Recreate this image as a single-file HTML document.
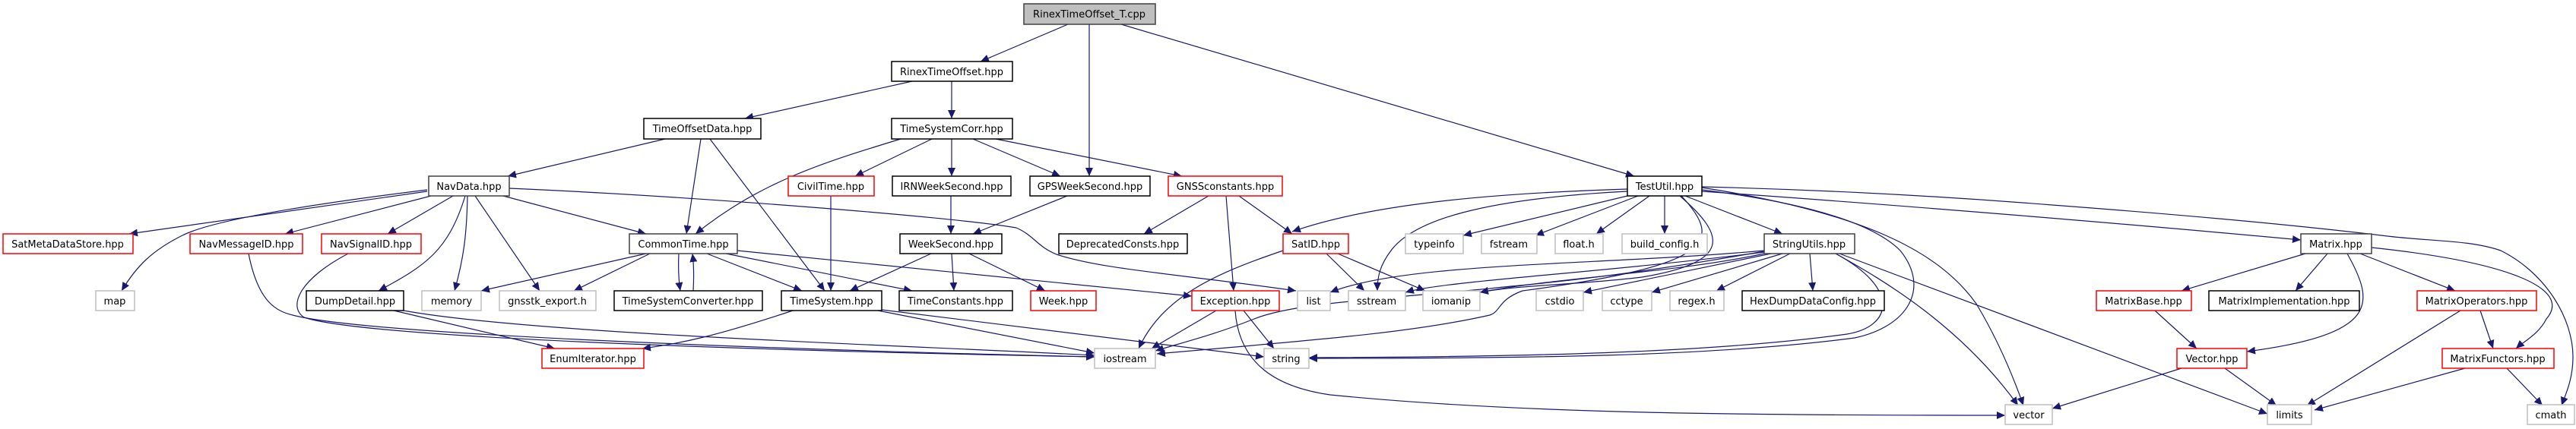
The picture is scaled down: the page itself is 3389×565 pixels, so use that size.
<!DOCTYPE html>
<html><head><meta charset="utf-8"><style>
html,body{margin:0;padding:0;background:#fff}
svg text{font-family:"DejaVu Sans","Liberation Sans",sans-serif;font-size:13px;text-anchor:middle;fill:#000}
</style></head><body>
<svg width="3389" height="560" viewBox="0 0 3389 560" xmlns="http://www.w3.org/2000/svg">
<defs><marker id="a" markerUnits="userSpaceOnUse" markerWidth="12" markerHeight="10" refX="11" refY="5" orient="auto"><path d="M0,0 L11,5 L0,10 z" fill="#191970"/></marker></defs>
<g fill="none" stroke="#191970" stroke-width="1.2" marker-end="url(#a)">
<path d="M1405,32 L1290,81"/>
<path d="M1433,32 L1433,232"/>
<path d="M1475,32 L2150,232"/>
<path d="M1200,107 L980,156"/>
<path d="M1252,107 L1252,156"/>
<path d="M875,183 L668,232"/>
<path d="M922,183 L903,308"/>
<path d="M934,183 L1085,383"/>
<path d="M1185,183 C1080,215 1000,240 915,308"/>
<path d="M1226,183 L1125,232"/>
<path d="M1252,183 L1252,232"/>
<path d="M1280,183 L1395,232"/>
<path d="M1310,183 L1555,232"/>
<path d="M562,252 L170,308"/>
<path d="M562,250 C400,270 280,290 240,310 C200,330 180,350 160,383"/>
<path d="M567,258 L375,308"/>
<path d="M596,258 L510,308"/>
<path d="M612,258 C590,330 560,350 498,383"/>
<path d="M615,258 C614,310 610,340 598,383"/>
<path d="M625,258 L710,383"/>
<path d="M662,258 L850,308"/>
<path d="M670,248 C900,258 1250,285 1337,300 C1360,310 1365,325 1390,335 C1450,355 1560,362 1705,383"/>
<path d="M327,334 C340,400 365,410 385,415 C480,440 1000,460 1440,470"/>
<path d="M458,334 C390,370 380,405 400,418 C480,445 1000,462 1440,470"/>
<path d="M518,409 L730,459"/>
<path d="M531,409 C700,440 1200,455 1440,468"/>
<path d="M1043,409 C950,440 900,452 845,459"/>
<path d="M1155,409 L1440,465"/>
<path d="M1160,408 L1663,470"/>
<path d="M850,334 L633,383"/>
<path d="M855,334 L755,383"/>
<path d="M893,334 C892,355 893,370 895,383"/>
<path d="M912,383 C913,365 913,350 911,334"/>
<path d="M930,334 L1055,383"/>
<path d="M955,334 L1200,383"/>
<path d="M970,330 L1568,390"/>
<path d="M1093,258 L1093,383"/>
<path d="M1251,258 L1251,308"/>
<path d="M1404,258 L1280,308"/>
<path d="M1225,334 L1118,383"/>
<path d="M1252,334 L1255,383"/>
<path d="M1275,334 L1375,383"/>
<path d="M1590,258 L1505,308"/>
<path d="M1613,258 L1623,383"/>
<path d="M1630,258 L1700,308"/>
<path d="M1688,330 C1600,360 1530,390 1498,459"/>
<path d="M1745,334 L1795,383"/>
<path d="M1760,334 L1875,383"/>
<path d="M1600,409 L1515,459"/>
<path d="M1636,409 L1676,459"/>
<path d="M1625,409 C1630,480 1680,510 1750,520 C2000,545 2300,547 2638,547"/>
<path d="M2141,249 C1950,255 1800,270 1700,305"/>
<path d="M2141,252 C1950,262 1860,290 1830,330 C1815,350 1812,365 1812,383"/>
<path d="M2141,258 L1925,310"/>
<path d="M2155,258 L2020,310"/>
<path d="M2170,258 L2100,308"/>
<path d="M2190,258 L2190,308"/>
<path d="M2210,258 C2270,310 2280,345 2160,365 C2080,375 2000,375 1947,385"/>
<path d="M2212,258 C2270,320 2250,350 2003,383 C1970,395 1975,410 1960,415 C1850,440 1700,450 1522,466"/>
<path d="M2217,258 L2345,308"/>
<path d="M2239,250 C2400,270 2470,300 2500,330 C2540,380 2510,430 2440,445 C2250,470 2000,472 1722,472"/>
<path d="M2239,247 C2450,280 2550,330 2600,400 C2630,450 2650,500 2662,534"/>
<path d="M2239,252 C2500,270 2800,295 3027,316"/>
<path d="M2239,246 C2400,250 2550,258 2700,270 C2900,285 3050,300 3141,311 C3200,318 3249,316 3290,330 C3350,360 3385,420 3385,470 C3385,500 3375,520 3370,534"/>
<path d="M2321,330 C2100,350 1850,345 1750,385"/>
<path d="M2321,332 C2100,360 1900,370 1849,385"/>
<path d="M2321,334 C2200,360 2050,365 1947,385"/>
<path d="M2321,331 C2100,370 2000,375 1960,380 C1800,395 1700,400 1650,420 C1600,440 1560,450 1520,462"/>
<path d="M2330,334 L2083,385"/>
<path d="M2345,334 L2173,385"/>
<path d="M2355,334 L2258,383"/>
<path d="M2381,334 L2385,383"/>
<path d="M2415,334 C2500,380 2490,430 2430,440 C2250,465 2000,470 1722,471"/>
<path d="M2415,334 C2480,370 2580,430 2655,534"/>
<path d="M2420,334 L2983,545"/>
<path d="M3033,334 L2870,383"/>
<path d="M3062,334 L3020,383"/>
<path d="M3088,334 C3125,400 3130,440 2956,463"/>
<path d="M3105,334 L3230,383"/>
<path d="M3120,326 C3300,345 3385,380 3350,420 C3340,440 3320,450 3310,459"/>
<path d="M2835,409 L2890,459"/>
<path d="M3237,409 L3035,534"/>
<path d="M3263,409 L3280,459"/>
<path d="M2870,485 L2700,538"/>
<path d="M2927,485 L2995,534"/>
<path d="M3243,485 L3045,540"/>
<path d="M3298,485 L3345,534"/>
</g>
<g stroke-width="1.5">
<rect x="1347" y="5" width="173" height="27" fill="#bfbfbf" stroke="#404040"/><text x="1433" y="23">RinexTimeOffset_T.cpp</text>
<rect x="1173" y="81" width="159" height="26" fill="#fff" stroke="#000"/><text x="1252" y="99">RinexTimeOffset.hpp</text>
<rect x="847" y="156" width="154" height="27" fill="#fff" stroke="#000"/><text x="924" y="174">TimeOffsetData.hpp</text>
<rect x="1173" y="156" width="159" height="27" fill="#fff" stroke="#000"/><text x="1252" y="174">TimeSystemCorr.hpp</text>
<rect x="564" y="232" width="106" height="26" fill="#fff" stroke="#404040"/><text x="617" y="250">NavData.hpp</text>
<rect x="1037" y="232" width="113" height="26" fill="#fff" stroke="#ff0000"/><text x="1093" y="250">CivilTime.hpp</text>
<rect x="1174" y="232" width="156" height="26" fill="#fff" stroke="#000"/><text x="1252" y="250">IRNWeekSecond.hpp</text>
<rect x="1355" y="232" width="158" height="26" fill="#fff" stroke="#000"/><text x="1434" y="250">GPSWeekSecond.hpp</text>
<rect x="1537" y="232" width="150" height="26" fill="#fff" stroke="#ff0000"/><text x="1612" y="250">GNSSconstants.hpp</text>
<rect x="2141" y="232" width="98" height="26" fill="#fff" stroke="#000"/><text x="2190" y="250">TestUtil.hpp</text>
<rect x="4" y="308" width="171" height="26" fill="#fff" stroke="#ff0000"/><text x="89" y="326">SatMetaDataStore.hpp</text>
<rect x="250" y="308" width="148" height="26" fill="#fff" stroke="#ff0000"/><text x="324" y="326">NavMessageID.hpp</text>
<rect x="423" y="308" width="131" height="26" fill="#fff" stroke="#ff0000"/><text x="488" y="326">NavSignalID.hpp</text>
<rect x="828" y="308" width="142" height="26" fill="#fff" stroke="#404040"/><text x="899" y="326">CommonTime.hpp</text>
<rect x="1184" y="308" width="134" height="26" fill="#fff" stroke="#000"/><text x="1251" y="326">WeekSecond.hpp</text>
<rect x="1393" y="308" width="169" height="26" fill="#fff" stroke="#000"/><text x="1477" y="326">DeprecatedConsts.hpp</text>
<rect x="1688" y="308" width="86" height="26" fill="#fff" stroke="#ff0000"/><text x="1731" y="326">SatID.hpp</text>
<rect x="1849" y="308" width="76" height="26" fill="#fff" stroke="#bfbfbf"/><text x="1887" y="326">typeinfo</text>
<rect x="1949" y="308" width="73" height="26" fill="#fff" stroke="#bfbfbf"/><text x="1985" y="326">fstream</text>
<rect x="2046" y="308" width="63" height="26" fill="#fff" stroke="#bfbfbf"/><text x="2077" y="326">float.h</text>
<rect x="2134" y="308" width="112" height="26" fill="#fff" stroke="#bfbfbf"/><text x="2190" y="326">build_config.h</text>
<rect x="2321" y="308" width="119" height="26" fill="#fff" stroke="#404040"/><text x="2380" y="326">StringUtils.hpp</text>
<rect x="3027" y="308" width="93" height="26" fill="#fff" stroke="#404040"/><text x="3073" y="326">Matrix.hpp</text>
<rect x="126" y="383" width="51" height="26" fill="#fff" stroke="#bfbfbf"/><text x="151" y="401">map</text>
<rect x="403" y="383" width="128" height="26" fill="#fff" stroke="#000"/><text x="467" y="401">DumpDetail.hpp</text>
<rect x="555" y="383" width="78" height="26" fill="#fff" stroke="#bfbfbf"/><text x="594" y="401">memory</text>
<rect x="657" y="383" width="127" height="26" fill="#fff" stroke="#bfbfbf"/><text x="720" y="401">gnsstk_export.h</text>
<rect x="808" y="383" width="195" height="26" fill="#fff" stroke="#000"/><text x="905" y="401">TimeSystemConverter.hpp</text>
<rect x="1028" y="383" width="132" height="26" fill="#fff" stroke="#000"/><text x="1094" y="401">TimeSystem.hpp</text>
<rect x="1183" y="383" width="149" height="26" fill="#fff" stroke="#000"/><text x="1257" y="401">TimeConstants.hpp</text>
<rect x="1356" y="383" width="86" height="26" fill="#fff" stroke="#ff0000"/><text x="1399" y="401">Week.hpp</text>
<rect x="1568" y="383" width="115" height="26" fill="#fff" stroke="#ff0000"/><text x="1625" y="401">Exception.hpp</text>
<rect x="1707" y="383" width="43" height="26" fill="#fff" stroke="#bfbfbf"/><text x="1728" y="401">list</text>
<rect x="1774" y="383" width="75" height="26" fill="#fff" stroke="#bfbfbf"/><text x="1811" y="401">sstream</text>
<rect x="1872" y="383" width="75" height="26" fill="#fff" stroke="#bfbfbf"/><text x="1909" y="401">iomanip</text>
<rect x="2021" y="383" width="62" height="26" fill="#fff" stroke="#bfbfbf"/><text x="2052" y="401">cstdio</text>
<rect x="2108" y="383" width="65" height="26" fill="#fff" stroke="#bfbfbf"/><text x="2140" y="401">cctype</text>
<rect x="2197" y="383" width="71" height="26" fill="#fff" stroke="#bfbfbf"/><text x="2232" y="401">regex.h</text>
<rect x="2292" y="383" width="187" height="26" fill="#fff" stroke="#000"/><text x="2385" y="401">HexDumpDataConfig.hpp</text>
<rect x="2758" y="383" width="125" height="26" fill="#fff" stroke="#ff0000"/><text x="2820" y="401">MatrixBase.hpp</text>
<rect x="2906" y="383" width="198" height="26" fill="#fff" stroke="#000"/><text x="3005" y="401">MatrixImplementation.hpp</text>
<rect x="3180" y="383" width="157" height="26" fill="#fff" stroke="#ff0000"/><text x="3258" y="401">MatrixOperators.hpp</text>
<rect x="713" y="459" width="134" height="26" fill="#fff" stroke="#ff0000"/><text x="780" y="477">EnumIterator.hpp</text>
<rect x="1440" y="459" width="80" height="26" fill="#fff" stroke="#bfbfbf"/><text x="1480" y="477">iostream</text>
<rect x="1663" y="459" width="59" height="26" fill="#fff" stroke="#bfbfbf"/><text x="1692" y="477">string</text>
<rect x="2864" y="459" width="92" height="26" fill="#fff" stroke="#ff0000"/><text x="2910" y="477">Vector.hpp</text>
<rect x="3213" y="459" width="147" height="26" fill="#fff" stroke="#ff0000"/><text x="3286" y="477">MatrixFunctors.hpp</text>
<rect x="2638" y="533" width="62" height="26" fill="#fff" stroke="#bfbfbf"/><text x="2669" y="551">vector</text>
<rect x="2983" y="533" width="58" height="26" fill="#fff" stroke="#bfbfbf"/><text x="3012" y="551">limits</text>
<rect x="3325" y="533" width="62" height="26" fill="#fff" stroke="#bfbfbf"/><text x="3356" y="551">cmath</text>
</g>
</svg>
</body></html>
